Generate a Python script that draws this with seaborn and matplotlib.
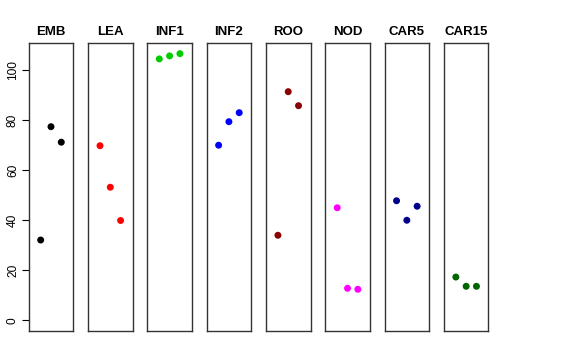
import numpy as np
import pandas as pd
import seaborn as sns
from matplotlib import pyplot as plt

panels = ["EMB", "LEA", "INF1", "INF2", "ROO", "NOD", "CAR5", "CAR15"]
colours = ["black", "red", "#00CD00", "blue", "#8B0000", "magenta", "#00008B", "#006400"]
reps = [1, 2, 3]

emb = [32.1, 77.4, 71.2]
lea = [69.8, 53.2, 39.9]
inf1 = [104.5, 105.7, 106.6]
inf2 = [70.0, 79.4, 83.0]
roo = [34.0, 91.4, 85.8]
nod = [45.0, 12.8, 12.4]
car5 = [47.8, 40.0, 45.6]
car15 = [17.3, 13.6, 13.6]

values = [emb, lea, inf1, inf2, roo, nod, car5, car15]

df = pd.DataFrame(
    [(p, r, v) for p, vals in zip(panels, values) for r, v in zip(reps, vals)],
    columns=["panel", "rep", "value"],
)

sns.set_style("white")
plt.rcParams["font.family"] = ["Liberation Sans", "DejaVu Sans"]
plt.rcParams["text.color"] = "black"
plt.rcParams["ytick.color"] = "black"

fig, axes = plt.subplots(1, len(panels), figsize=(5.76, 3.6), dpi=100, sharey=True)
fig.subplots_adjust(left=0.0498, right=0.848, bottom=0.0806, top=0.8806, wspace=0.33)

ymax = df["value"].max()
pad = ymax * 0.04

for i, (ax, name) in enumerate(zip(axes, panels)):
    sub = df[df["panel"] == name]
    sns.scatterplot(data=sub, x="rep", y="value", color=colours[i], s=25, edgecolor="none", ax=ax)
    ax.set_xlim(-0.165, 4.165)
    ax.set_ylim(-pad, ymax + pad)
    ax.set_title(name, fontsize=9.5, fontweight="bold", color="black", pad=6)
    ax.set_xlabel("")
    ax.set_ylabel("")
    ax.set_xticks([])
    for sp in ax.spines.values():
        sp.set_color("#333333")
        sp.set_linewidth(1)
    if i == 0:
        ax.set_yticks(np.arange(0, 101, 20))
        ax.tick_params(axis="y", left=True, length=5, width=0.8, labelsize=8.6, pad=2)
        for lbl in ax.get_yticklabels():
            lbl.set_rotation(90)
            lbl.set_va("center")
    else:
        ax.tick_params(axis="y", left=False, labelleft=False)

fig.savefig("out.png", dpi=100)
